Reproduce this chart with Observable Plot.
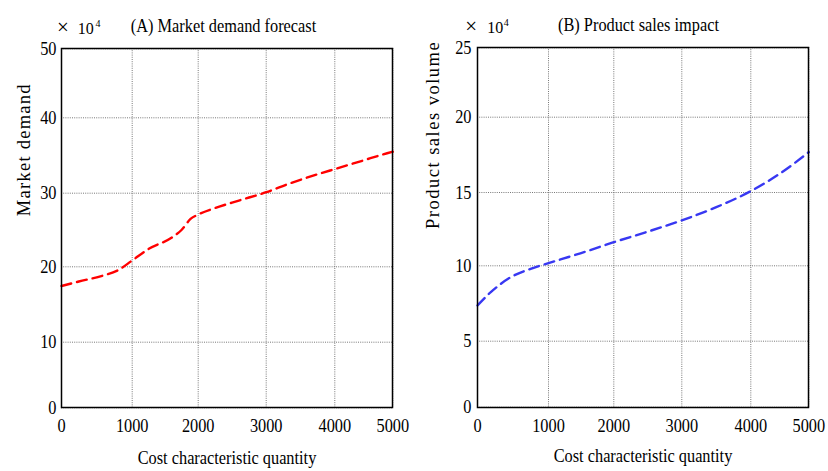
<!DOCTYPE html>
<html>
<head>
<meta charset="utf-8">
<script src="https://cdn.jsdelivr.net/npm/d3@7"></script>
<script src="https://cdn.jsdelivr.net/npm/@observablehq/plot@0.6"></script>
<style>
  body { margin: 0; background: #fff; }
  #wrap { display: flex; width: 828px; height: 471px; }
</style>
</head>
<body>
<div id="wrap"></div>
<script>
// ---- data ----
const xTicks = [0, 1000, 2000, 3000, 4000, 5000];
const demandTicks = [0, 10, 20, 30, 40, 50];
const salesTicks = [0, 5, 10, 15, 20, 25];

const demandX = [0, 245, 575, 810, 1000, 1252, 1606, 1747, 1884, 2000, 2254, 2598, 3000, 3330, 3817, 4000, 4472, 4902, 5000];
const demandY = [17.45, 18.05, 18.8, 19.6, 20.86, 22.45, 24.0, 25.0, 26.5, 27.1, 28.0, 29.0, 30.13, 31.25, 32.7, 33.2, 34.3, 35.3, 35.5];

const salesX = [0, 187, 467, 748, 1000, 1500, 2000, 2500, 3000, 3500, 4000, 4500, 5000];
const salesY = [7.37, 8.25, 9.24, 9.8, 10.18, 10.87, 11.61, 12.33, 13.1, 14.0, 15.09, 16.25, 17.68];

const titles = ["(A) Market demand forecast", "(B) Product sales impact"];
const yLabels = ["Market demand", "Product sales volume"];
const xLabel = "Cost characteristic quantity";
const unitText = ["×", "10", "4"];

const demand = demandX.map((x, i) => ({x, y: demandY[i]}));
const sales = salesX.map((x, i) => ({x, y: salesY[i]}));

const serif = "Liberation Serif, Times New Roman, serif";

function panel(cfg) {
  const svg = Plot.plot({
    width: 414,
    height: 471,
    marginLeft: cfg.ml,
    marginRight: cfg.mr,
    marginTop: cfg.mt,
    marginBottom: cfg.mb,
    style: {fontFamily: serif, fontSize: "16px", color: "#000", background: "#fff", overflow: "visible"},
    x: {type: "linear", domain: xTicks, range: cfg.xr},
    y: {type: "linear", domain: cfg.yTicks, range: cfg.yr},
    marks: [
      Plot.gridX(xTicks, {stroke: "#555", strokeOpacity: 1, strokeDasharray: "1,1.2", strokeWidth: 0.8}),
      Plot.gridY(cfg.yTicks, {stroke: "#555", strokeOpacity: 1, strokeDasharray: "1,1.2", strokeWidth: 0.8}),
      Plot.axisX({ticks: xTicks, tickSize: 0, tickPadding: 11, label: null, fontSize: 19, tickFormat: d => String(d)}),
      Plot.axisY({ticks: cfg.yTicks, tickSize: 0, tickPadding: cfg.yPad, label: null, fontSize: 19, tickFormat: d => String(d)}),
      Plot.line(cfg.data, {x: "x", y: "y", curve: "monotone-x", stroke: cfg.color, strokeWidth: 2.4, strokeDasharray: "10,6"}),
      Plot.frame({stroke: "#000", strokeWidth: 1.5}),
      Plot.text([cfg.title], {frameAnchor: "top", text: d => d, dx: cfg.tdx, dy: cfg.tdy, lineAnchor: "bottom", fontSize: 19}),
      Plot.text([unitText[0]], {frameAnchor: "top-left", text: d => d, textAnchor: "middle", dx: cfg.mdx[0], dy: cfg.mdy[0], lineAnchor: "middle", fontSize: 21}),
      Plot.text([unitText[1]], {frameAnchor: "top-left", text: d => d, textAnchor: "start", dx: cfg.mdx[1], dy: cfg.mdy[1], lineAnchor: "bottom", fontSize: 16}),
      Plot.text([unitText[2]], {frameAnchor: "top-left", text: d => d, textAnchor: "start", dx: cfg.mdx[2], dy: cfg.mdy[2], lineAnchor: "bottom", fontSize: 10}),
      Plot.text([cfg.yLabel], {frameAnchor: "left", text: d => d, rotate: -90, dx: cfg.ydx, dy: cfg.ydy, lineAnchor: "bottom", fontSize: 18.5}),
      Plot.text([xLabel], {frameAnchor: "bottom", text: d => d, dy: cfg.xdy, lineAnchor: "bottom", fontSize: 19})
    ]
  });
  // condensed serif look of the reference
  svg.querySelectorAll('g[font-size="19"] text').forEach(t => {
    const tr = t.getAttribute("transform") || "";
    t.setAttribute("transform", tr + " scale(0.86,1)");
  });
  svg.querySelectorAll('g[font-size="18.5"] text').forEach(t => {
    t.setAttribute("textLength", cfg.yLen);
    t.setAttribute("lengthAdjust", "spacing");
  });
  return svg;
}

const wrap = document.getElementById("wrap");
wrap.appendChild(panel({
  ml: 61, mr: 22, mt: 48, mb: 64,
  xr: [61, 131.7, 197.7, 265.7, 334.3, 392.3],
  yTicks: demandTicks,
  yr: [407.3, 341.7, 266.3, 192.7, 117.3, 48.3],
  yPad: 5,
  data: demand, color: "#ff0000",
  title: titles[0], tdx: -3.5, tdy: -17,
  mdx: [1.5, 16.3, 34], mdy: [-21, -15, -21.3],
  yLabel: yLabels[0], ydx: -32, ydy: -11.8, yLen: 131.7,
  xdy: 56
}));
wrap.appendChild(panel({
  ml: 63, mr: 20, mt: 47, mb: 64,
  xr: [63, 134, 199.3, 267.3, 336.3, 394.3],
  yTicks: salesTicks,
  yr: [406.7, 340.7, 265.3, 192, 116.7, 47.3],
  yPad: 6,
  data: sales, color: "#3838f2",
  title: titles[1], tdx: -4.5, tdy: -17,
  mdx: [-6.3, 9.7, 26.3], mdy: [-21.5, -14.3, -22],
  yLabel: yLabels[1], ydx: -38.7, ydy: 1.5, yLen: 186.7,
  xdy: 54
}));
</script>
</body>
</html>
